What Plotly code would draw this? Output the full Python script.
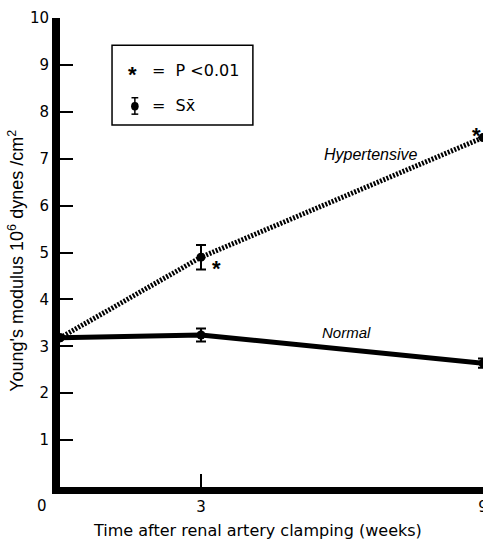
import plotly.graph_objects as go

# ---- data ----
weeks = [0, 3, 9]
normal_mean = [3.18, 3.24, 2.64]
normal_sem = [0.0, 0.14, 0.10]
hyper_mean = [3.18, 4.90, 7.45]
hyper_sem = [0.0, 0.26, 0.0]
hyper_significant = [False, True, True]
x_tick_vals = [3, 9]
x_tick_text = ["3", "9"]
y_tick_vals = [1, 2, 3, 4, 5, 6, 7, 8, 9, 10]
y_tick_text = ["1", "2", "3", "4", "5", "6", "7", "8", "9", "10"]

FONT = "Liberation Sans"
WIDE = "DejaVu Sans"
BLACK = "#000000"

fig = go.Figure()

fig.add_trace(go.Scatter(
    x=weeks, y=hyper_mean, mode="lines+markers", name="Hypertensive",
    line=dict(color=BLACK, width=5, dash="2px,1.5px"),
    marker=dict(color=BLACK, size=9),
    error_y=dict(type="data", array=hyper_sem, visible=True, color=BLACK,
                 thickness=2, width=5),
    cliponaxis=False, showlegend=False,
))
fig.add_trace(go.Scatter(
    x=weeks, y=normal_mean, mode="lines+markers", name="Normal",
    line=dict(color=BLACK, width=5),
    marker=dict(color=BLACK, size=9),
    error_y=dict(type="data", array=normal_sem, visible=True, color=BLACK,
                 thickness=2, width=5),
    cliponaxis=False, showlegend=False,
))

annotations = []
# significance asterisks
for i, (xv, yv, sig) in enumerate(zip(weeks, hyper_mean, hyper_significant)):
    if not sig:
        continue
    if i == len(weeks) - 1:
        xs, ys = -7, 2
    else:
        xs, ys = 15, -11
    annotations.append(dict(x=xv, y=yv, xref="x", yref="y", text="<b>*</b>",
                            showarrow=False, xshift=xs, yshift=ys,
                            xanchor="center", yanchor="middle",
                            font=dict(family=FONT, size=22, color=BLACK)))

# series labels
annotations.append(dict(x=6.6, y=7.08, xref="x", yref="y", text="<i>Hypertensive</i>",
                        showarrow=False, font=dict(family=FONT, size=16, color=BLACK)))
annotations.append(dict(x=6.1, y=3.3, xref="x", yref="y", text="<i>Normal</i>",
                        showarrow=False, font=dict(family=FONT, size=15, color=BLACK)))
# origin label
annotations.append(dict(x=0, y=0, xref="x", yref="y", text="0", showarrow=False,
                        xshift=-18, yshift=-19, font=dict(family=WIDE, size=15, color=BLACK)))

# axis titles
annotations.append(dict(x=0.468, y=-0.092, xref="paper", yref="paper",
                        xanchor="center", yanchor="middle", showarrow=False,
                        text="Time after renal artery clamping (weeks)",
                        font=dict(family=WIDE, size=16, color=BLACK)))
annotations.append(dict(x=-0.102, y=0.482, xref="paper", yref="paper",
                        xanchor="center", yanchor="middle", showarrow=False, textangle=-90,
                        text="Young's modulus 10<sup>6</sup> dynes /cm<sup>2</sup>",
                        font=dict(family=FONT, size=18, color=BLACK)))

# legend box content
annotations.append(dict(x=0.172, y=0.889, xref="paper", yref="paper", text="<b>*</b>",
                        xanchor="center", yanchor="middle", yshift=-4,
                        showarrow=False, font=dict(family=FONT, size=22, color=BLACK)))
annotations.append(dict(x=0.212, y=0.889, xref="paper", yref="paper", xanchor="left",
                        yanchor="middle", text="=  P &lt;0.01", showarrow=False,
                        font=dict(family=WIDE, size=16, color=BLACK)))
annotations.append(dict(x=0.212, y=0.813, xref="paper", yref="paper", xanchor="left",
                        yanchor="middle", text="=  Sx\u0304", showarrow=False,
                        font=dict(family=WIDE, size=16, color=BLACK)))

shapes = [
    dict(type="rect", xref="paper", yref="paper", x0=0.123, x1=0.456, y0=0.772, y1=0.942,
         line=dict(color=BLACK, width=1.5)),
    # legend error-bar glyph
    dict(type="line", xref="paper", yref="paper", x0=0.177, x1=0.177, y0=0.795, y1=0.830,
         line=dict(color=BLACK, width=1.5)),
    dict(type="line", xref="paper", yref="paper", x0=0.169, x1=0.185, y0=0.830, y1=0.830,
         line=dict(color=BLACK, width=1.5)),
    dict(type="line", xref="paper", yref="paper", x0=0.169, x1=0.185, y0=0.795, y1=0.795,
         line=dict(color=BLACK, width=1.5)),
    dict(type="circle", xref="paper", yref="paper", x0=0.168, x1=0.186, y0=0.803, y1=0.821,
         fillcolor=BLACK, line=dict(color=BLACK, width=0)),
]

fig.update_layout(
    width=483, height=540,
    margin=dict(l=60, r=0, t=18, b=53, autoexpand=False),
    paper_bgcolor="white", plot_bgcolor="white",
    font=dict(family=WIDE, size=15, color=BLACK),
    annotations=annotations, shapes=shapes,
    xaxis=dict(range=[0, 9], tickvals=x_tick_vals, ticktext=x_tick_text,
               automargin=False, ticklabeloverflow="allow",
               showgrid=False, zeroline=False, showline=True, linewidth=7,
               linecolor=BLACK, ticks="inside", ticklen=13, tickwidth=1.5,
               tickcolor=BLACK),
    yaxis=dict(range=[0, 10], tickvals=y_tick_vals, ticktext=y_tick_text,
               automargin=False, ticklabeloverflow="allow",
               showgrid=False, zeroline=False, showline=True, linewidth=8,
               linecolor=BLACK, ticks="inside", ticklen=13, tickwidth=1.5,
               tickcolor=BLACK),
)

fig.write_html("out.html", config={"displayModeBar": False},
               post_script="document.body.style.margin='0';")
